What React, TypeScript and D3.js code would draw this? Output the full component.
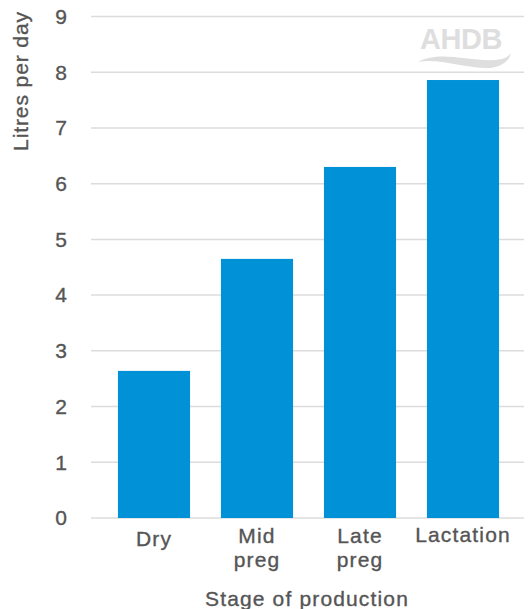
import React from "react";
import * as d3 from "d3";

const categories: string[][] = [["Dry"], ["Mid", "preg"], ["Late", "preg"], ["Lactation"]];
const values: number[] = [2.64, 4.65, 6.3, 7.86];
const yTicks: number[] = [0, 1, 2, 3, 4, 5, 6, 7, 8, 9];
const yTitle = "Litres per day";
const xTitle = "Stage of production";

const W = 528;
const H = 609;

export default function App() {
  const y = d3.scaleLinear().domain([0, 9]).range([518, 16.5]);
  const x = d3
    .scaleBand<number>()
    .domain(categories.map((_, i) => i))
    .range([102.5, 514.5])
    .paddingInner(0.3)
    .paddingOuter(0.15);
  const font = "'Liberation Sans', Arial, Helvetica, sans-serif";
  const grey = "#555555";
  const labelY = [546, 543, 543, 542];
  const textStyle = {
    fontSize: 21,
    fill: grey,
    stroke: grey,
    strokeWidth: 0.35,
    letterSpacing: 1.15,
  } as const;
  return (
    <svg
      width={W}
      height={H}
      style={{ position: "absolute", left: 0, top: 0, background: "#fff" }}
      fontFamily={font}
    >
      {yTicks.map((t) => (
        <g key={t}>
          <line x1={91} x2={524} y1={y(t)} y2={y(t)} stroke="#dcdcdc" strokeWidth={1.5} />
          <text x={67} y={y(t)} dy="0.35em" textAnchor="end" {...textStyle} letterSpacing={0}>
            {t}
          </text>
        </g>
      ))}
      {/* AHDB logo */}
      <g fill="#dedede">
        <text x={461} y={49} textAnchor="middle" fontSize={29} fontWeight="bold" letterSpacing={-0.5}>
          AHDB
        </text>
        <path d="M418,62 C440,50 470,62 495,60 C505,59 510,56 511,52 C510,62 500,67 490,68 C465,69 440,58 418,62 Z" />
      </g>
      {values.map((v, i) => (
        <rect
          key={i}
          x={x(i)}
          y={y(v)}
          width={x.bandwidth()}
          height={y(0) - y(v)}
          fill="#0091d6"
        />
      ))}
      {categories.map((lines, i) => (
        <text
          key={i}
          x={(x(i) as number) + x.bandwidth() / 2}
          y={labelY[i]}
          textAnchor="middle"
          {...textStyle}
        >
          {lines.map((l, j) => (
            <tspan key={j} x={(x(i) as number) + x.bandwidth() / 2} dy={j === 0 ? 0 : 24}>
              {l}
            </tspan>
          ))}
        </text>
      ))}
      <text x={307} y={606} textAnchor="middle" {...textStyle}>
        {xTitle}
      </text>
      <text
        transform={`translate(28,81) rotate(-90)`}
        textAnchor="middle"
        {...textStyle}
        letterSpacing={0.9}
      >
        {yTitle}
      </text>
    </svg>
  );
}
